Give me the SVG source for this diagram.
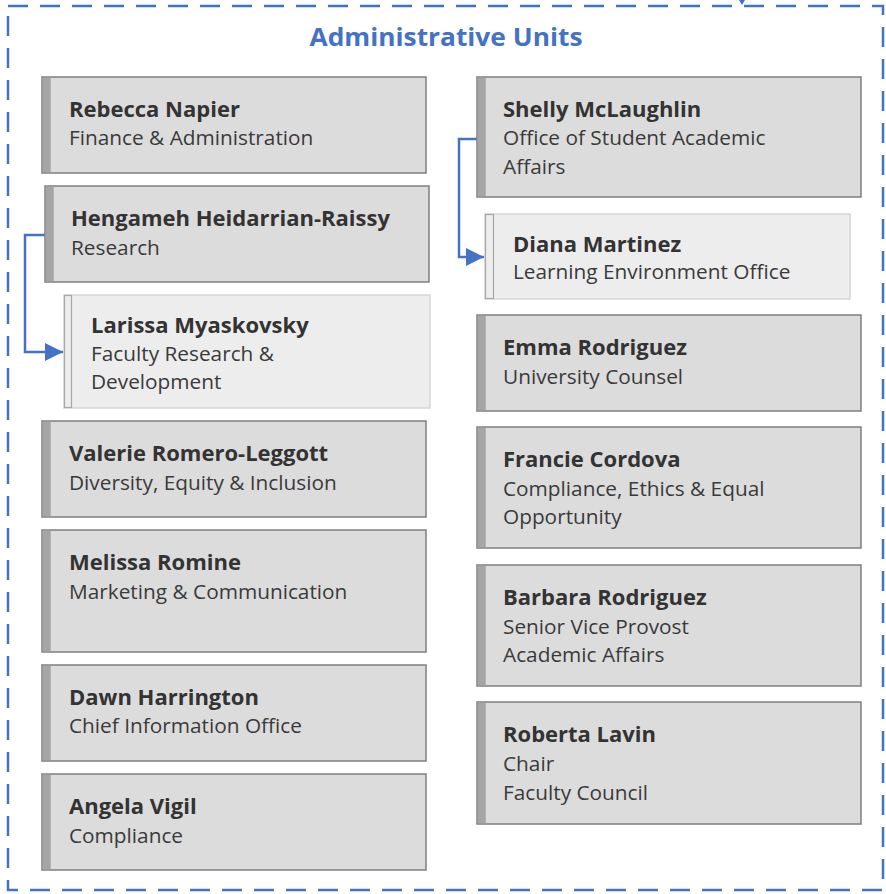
<svg xmlns="http://www.w3.org/2000/svg" width="886" height="894" viewBox="0 0 886 894">
<defs>
<style>
.frame{fill:none;stroke:#4472C4;stroke-width:2.5;stroke-dasharray:20 12}
.title{font-family:"Open Sans","Noto Sans",sans-serif;font-weight:700;font-size:25px;fill:#4472C4}
.box{fill:#dcdcdc;stroke:#7f7f7f;stroke-width:1.5}
.bar{fill:#a5a5a5}
.lbox{fill:#ededed;stroke:#d6d6d6;stroke-width:1.5}
.lbar{fill:#ededed;stroke:#a8a8a8;stroke-width:1.2}
.name{font-family:"Open Sans","Noto Sans",sans-serif;font-weight:700;font-size:22px;fill:#333333}
.sub{font-family:"Open Sans","Noto Sans",sans-serif;font-size:20.8px;fill:#3a3a3a}
.conn{fill:none;stroke:#4472C4;stroke-width:2.5}
</style>
<marker id="arr" viewBox="0 0 18 18" refX="18" refY="9" markerWidth="18" markerHeight="18" markerUnits="userSpaceOnUse" orient="auto">
<path d="M0,0 L18,9 L0,18 Z" fill="#4472C4"/>
</marker>
</defs>
<rect width="886" height="894" fill="#ffffff"/>
<rect class="frame" x="8" y="6" width="875" height="884"/>
<text class="title" x="446" y="46" text-anchor="middle" textLength="273" lengthAdjust="spacingAndGlyphs">Administrative Units</text>

<g id="connectors">
<path d="M739,0 L745,0 L742,5 Z" fill="#4472C4"/>
<path class="conn" d="M45,235 H25 V352 H63" marker-end="url(#arr)"/>
<path class="conn" d="M477,139 H459 V257 H484" marker-end="url(#arr)"/>
</g>

<g id="rebecca">
<rect class="box" x="42" y="77" width="384" height="96"/>
<rect class="bar" x="42.75" y="77.75" width="8" height="94.5"/>
<text class="name" x="69" y="117">Rebecca Napier</text>
<text class="sub" x="69" y="145">Finance &amp; Administration</text>
</g>

<g id="hengameh">
<rect class="box" x="45" y="186" width="384" height="96"/>
<rect class="bar" x="45.75" y="186.75" width="8" height="94.5"/>
<text class="name" x="71" y="226">Hengameh Heidarrian-Raissy</text>
<text class="sub" x="71" y="255">Research</text>
</g>

<g id="larissa">
<rect class="lbox" x="64" y="295" width="366" height="113"/>
<rect class="lbar" x="64.5" y="295.5" width="7" height="112"/>
<text class="name" x="91" y="333">Larissa Myaskovsky</text>
<text class="sub" x="91" y="361">Faculty Research &amp;</text>
<text class="sub" x="91" y="389">Development</text>
</g>

<g id="valerie">
<rect class="box" x="42" y="421" width="384" height="96"/>
<rect class="bar" x="42.75" y="421.75" width="8" height="94.5"/>
<text class="name" x="69" y="461">Valerie Romero-Leggott</text>
<text class="sub" x="69" y="490">Diversity, Equity &amp; Inclusion</text>
</g>

<g id="melissa">
<rect class="box" x="42" y="530" width="384" height="122"/>
<rect class="bar" x="42.75" y="530.75" width="8" height="120.5"/>
<text class="name" x="69" y="570">Melissa Romine</text>
<text class="sub" x="69" y="599">Marketing &amp; Communication</text>
</g>

<g id="dawn">
<rect class="box" x="42" y="665" width="384" height="96"/>
<rect class="bar" x="42.75" y="665.75" width="8" height="94.5"/>
<text class="name" x="69" y="705">Dawn Harrington</text>
<text class="sub" x="69" y="733">Chief Information Office</text>
</g>

<g id="angela">
<rect class="box" x="42" y="774" width="384" height="96"/>
<rect class="bar" x="42.75" y="774.75" width="8" height="94.5"/>
<text class="name" x="69" y="814">Angela Vigil</text>
<text class="sub" x="69" y="843">Compliance</text>
</g>

<g id="shelly">
<rect class="box" x="477" y="77" width="384" height="120"/>
<rect class="bar" x="477.75" y="77.75" width="8" height="118.5"/>
<text class="name" x="503" y="117">Shelly McLaughlin</text>
<text class="sub" x="503" y="145">Office of Student Academic</text>
<text class="sub" x="503" y="174">Affairs</text>
</g>

<g id="diana">
<rect class="lbox" x="485" y="214" width="365" height="85"/>
<rect class="lbar" x="485.5" y="214.5" width="8" height="84"/>
<text class="name" x="513" y="252">Diana Martinez</text>
<text class="sub" x="513" y="279">Learning Environment Office</text>
</g>

<g id="emma">
<rect class="box" x="477" y="315" width="384" height="96"/>
<rect class="bar" x="477.75" y="315.75" width="8" height="94.5"/>
<text class="name" x="503" y="355">Emma Rodriguez</text>
<text class="sub" x="503" y="384">University Counsel</text>
</g>

<g id="francie">
<rect class="box" x="477" y="427" width="384" height="121"/>
<rect class="bar" x="477.75" y="427.75" width="8" height="119.5"/>
<text class="name" x="503" y="467">Francie Cordova</text>
<text class="sub" x="503" y="496">Compliance, Ethics &amp; Equal</text>
<text class="sub" x="503" y="524">Opportunity</text>
</g>

<g id="barbara">
<rect class="box" x="477" y="565" width="384" height="121"/>
<rect class="bar" x="477.75" y="565.75" width="8" height="119.5"/>
<text class="name" x="503" y="605">Barbara Rodriguez</text>
<text class="sub" x="503" y="634">Senior Vice Provost</text>
<text class="sub" x="503" y="662">Academic Affairs</text>
</g>

<g id="roberta">
<rect class="box" x="477" y="702" width="384" height="122"/>
<rect class="bar" x="477.75" y="702.75" width="8" height="120.5"/>
<text class="name" x="503" y="742">Roberta Lavin</text>
<text class="sub" x="503" y="771">Chair</text>
<text class="sub" x="503" y="800">Faculty Council</text>
</g>
</svg>
